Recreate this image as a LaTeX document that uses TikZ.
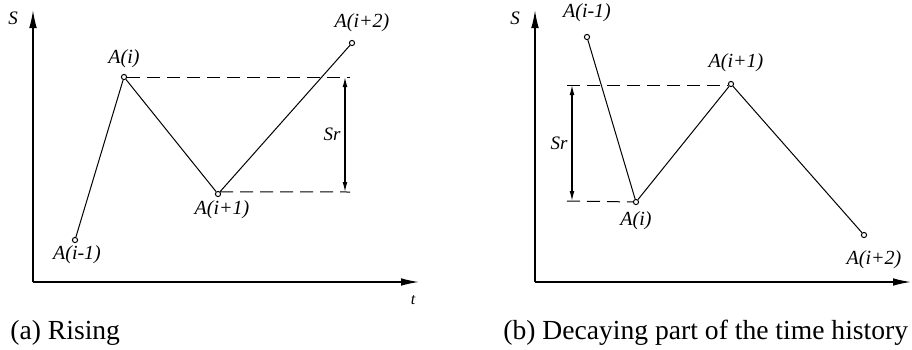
\documentclass[tikz,border=0pt]{standalone}
\usepackage{fontspec}
\setmainfont{Liberation Serif}
\usetikzlibrary{arrows,arrows.meta,positioning,calc}
\tikzstyle{axisline} = [draw, line width=0.7pt, -{Latex[length=9pt,width=3.8pt]}]
\tikzstyle{line} = [draw, line width=0.5pt]
\tikzstyle{srarrow} = [draw, line width=0.6pt, {Latex[length=5pt,width=2.4pt]}-{Latex[length=5pt,width=2.4pt]}]
\tikzstyle{dashline} = [draw, line width=0.5pt, dash pattern=on 6.5pt off 3.5pt]
\tikzstyle{peak} = [draw, circle, fill=white, inner sep=0pt, minimum size=2.6pt, line width=0.5pt]
\tikzstyle{lbl} = [font=\fontsize{10}{12}\selectfont\itshape, inner sep=0pt]
\tikzstyle{caption} = [font=\fontsize{13.8}{16}\selectfont, inner sep=0pt, anchor=base west]

\begin{document}
\begin{tikzpicture}[x=0.5pt, y=-0.5pt]
    \useasboundingbox (0,0) rectangle (912,349);

    % (a) rising
    \coordinate (oa) at (33,282);
    \coordinate (ya) at (33,10);
    \coordinate (xa) at (419,282);
    \path [axisline] (oa) -- (ya);
    \path [axisline] (oa) -- (xa);
    \node [lbl, font=\fontsize{9.5}{11}\selectfont\itshape] (sa) at (13,18) {S};
    \node [lbl, font=\fontsize{8}{10}\selectfont\itshape] (ta) at (413,300) {t};

    \node [peak] (a0) at (75,240) {};
    \node [peak] (a1) at (124,77) {};
    \node [peak] (a2) at (218,194) {};
    \node [peak] (a3) at (352,43) {};
    \node [lbl, below=1pt of a0, xshift=1pt] (la0) {A(i-1)};
    \node [lbl, above=3pt of a1] (la1) {A(i)};
    \node [lbl, below=1.5pt of a2, xshift=2pt] (la2) {A(i+1)};
    \node [lbl, above=4pt of a3, xshift=5pt] (la3) {A(i+2)};

    \path [line] (a0) -- (a1) -- (a2) -- (a3);

    \coordinate (da1) at (350,77);
    \coordinate (da2) at (350,192);
    \coordinate (ra1) at (345,77);
    \coordinate (ra2) at (345,192);
    \path [dashline] (a1) -- (da1);
    \path [dashline] (a2.north east) -- (da2);
    \path [srarrow] (ra1) -- node [lbl, font=\fontsize{9.5}{11}\selectfont\itshape, left=2pt] (sra) {Sr} (ra2);

    % (b) decaying
    \coordinate (ob) at (535,282);
    \coordinate (yb) at (535,10);
    \coordinate (xb) at (911,282);
    \path [axisline] (ob) -- (yb);
    \path [axisline] (ob) -- (xb);
    \node [lbl, font=\fontsize{9.5}{11}\selectfont\itshape] (sb) at (515,18) {S};

    \node [peak] (b0) at (587,37) {};
    \node [peak] (b1) at (636,202) {};
    \node [peak] (b2) at (731,84) {};
    \node [peak] (b3) at (864,235) {};
    \node [lbl, above=6pt of b0] (lb0) {A(i-1)};
    \node [lbl, below=3pt of b1] (lb1) {A(i)};
    \node [lbl, above=4.5pt of b2, xshift=2.5pt] (lb2) {A(i+1)};
    \node [lbl, below=6pt of b3, xshift=5pt] (lb3) {A(i+2)};

    \path [line] (b0) -- (b1) -- (b2) -- (b3);

    \coordinate (db1) at (567,85);
    \coordinate (db2) at (567,201);
    \coordinate (rb1) at (572,85);
    \coordinate (rb2) at (572,201);
    \path [dashline] (db1) -- (b2.west |- db1);
    \path [dashline] (db2) -- (b1);
    \path [srarrow] (rb1) -- node [lbl, font=\fontsize{9.5}{11}\selectfont\itshape, left=2pt] (srb) {Sr} (rb2);

    % captions
    \node [caption] (capa) at (10,339) {(a) Rising};
    \node [caption] (capb) at (503,339) {(b) Decaying part of the time history};
\end{tikzpicture}
\end{document}
